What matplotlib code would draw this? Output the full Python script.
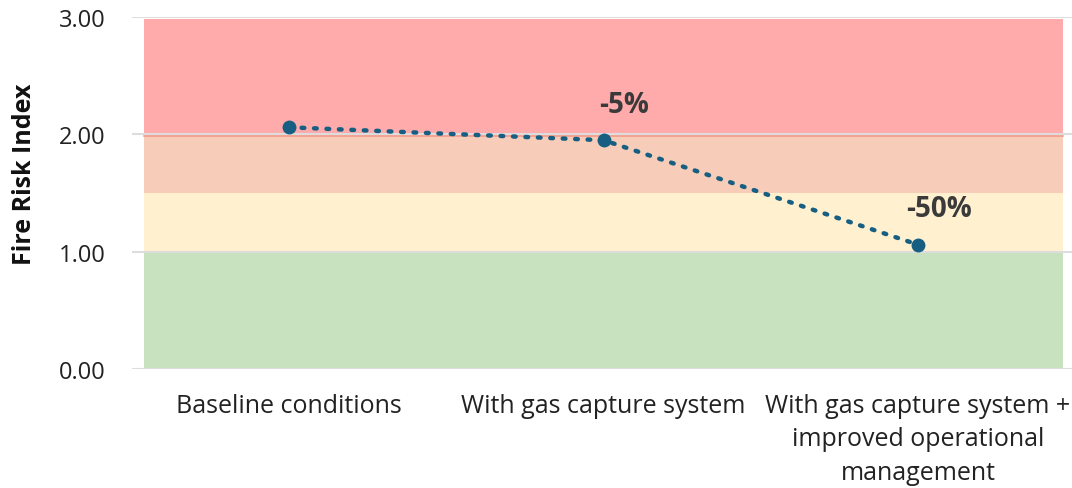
import matplotlib
matplotlib.use("Agg")
import matplotlib.pyplot as plt

plt.rcParams['font.family'] = ['Open Sans', 'DejaVu Sans']

# Scenarios and fire risk index values
scenarios = ["Baseline conditions",
             "With gas capture system",
             "With gas capture system +\nimproved operational\nmanagement"]
risk_index = [2.06, 1.95, 1.06]
change_labels = [None, "-5%", "-50%"]

# Risk zones: (lower, upper, colour)
zone_bounds = [(0.0, 1.0), (1.0, 1.5), (1.5, 2.0), (2.0, 3.0)]
zone_colors = ["#c8e2c0", "#fff1cf", "#f7cdb9", "#ffaaab"]

y_ticks = [0.0, 1.0, 2.0, 3.0]

fig = plt.figure(figsize=(10.72, 4.89), dpi=100)
ax = fig.add_axes([132 / 1072, 1 - 370 / 489, 1 - 132 / 1072, (370 - 18) / 489])

x = list(range(len(scenarios)))
zone_x = [-0.461, len(scenarios) - 1 + 0.461]
for (lo, hi), col in zip(zone_bounds, zone_colors):
    top = min(hi, 2.985)
    ax.fill_between(zone_x, lo, top, color=col, linewidth=0, zorder=1)
ax.plot(zone_x, [1.985, 1.985], color="#f59a8a", linewidth=1.2, zorder=1.5)

for yt in y_ticks:
    ax.axhline(yt, color="#dddddd", linewidth=1.5, zorder=2)

line_color = "#175f82"
ax.plot(x, risk_index, linestyle=(0, (0.6, 2.2)), linewidth=3.2,
        dash_capstyle="round", color=line_color, zorder=3)
ax.scatter(x, risk_index, s=100, color=line_color, zorder=4, linewidths=0)

for xi, yi, lab in zip(x, risk_index, change_labels):
    if lab:
        ax.annotate(lab, (xi, yi), xytext=(15, 26), textcoords="offset points",
                    ha="center", va="center", fontsize=20, fontweight="bold",
                    color="#3a3a3a", zorder=5)

ax.set_xlim(-0.5, 2.49)
ax.set_ylim(0, 3)
ax.set_yticks(y_ticks)
ax.set_yticklabels([f"{v:.2f}" for v in y_ticks], fontsize=17, color="#222222")
ax.set_xticks(x)
ax.set_xticklabels(scenarios, fontsize=18, color="#222222", linespacing=1.45,
                   va="top", ha="center")
ax.tick_params(axis="y", length=0, pad=19)
ax.tick_params(axis="x", length=0, pad=17)
for s in ax.spines.values():
    s.set_visible(False)
ax.set_ylabel("Fire Risk Index", fontsize=18, fontweight="bold", color="#111111",
              labelpad=16, y=0.557)

fig.savefig("out.png", dpi=100)
